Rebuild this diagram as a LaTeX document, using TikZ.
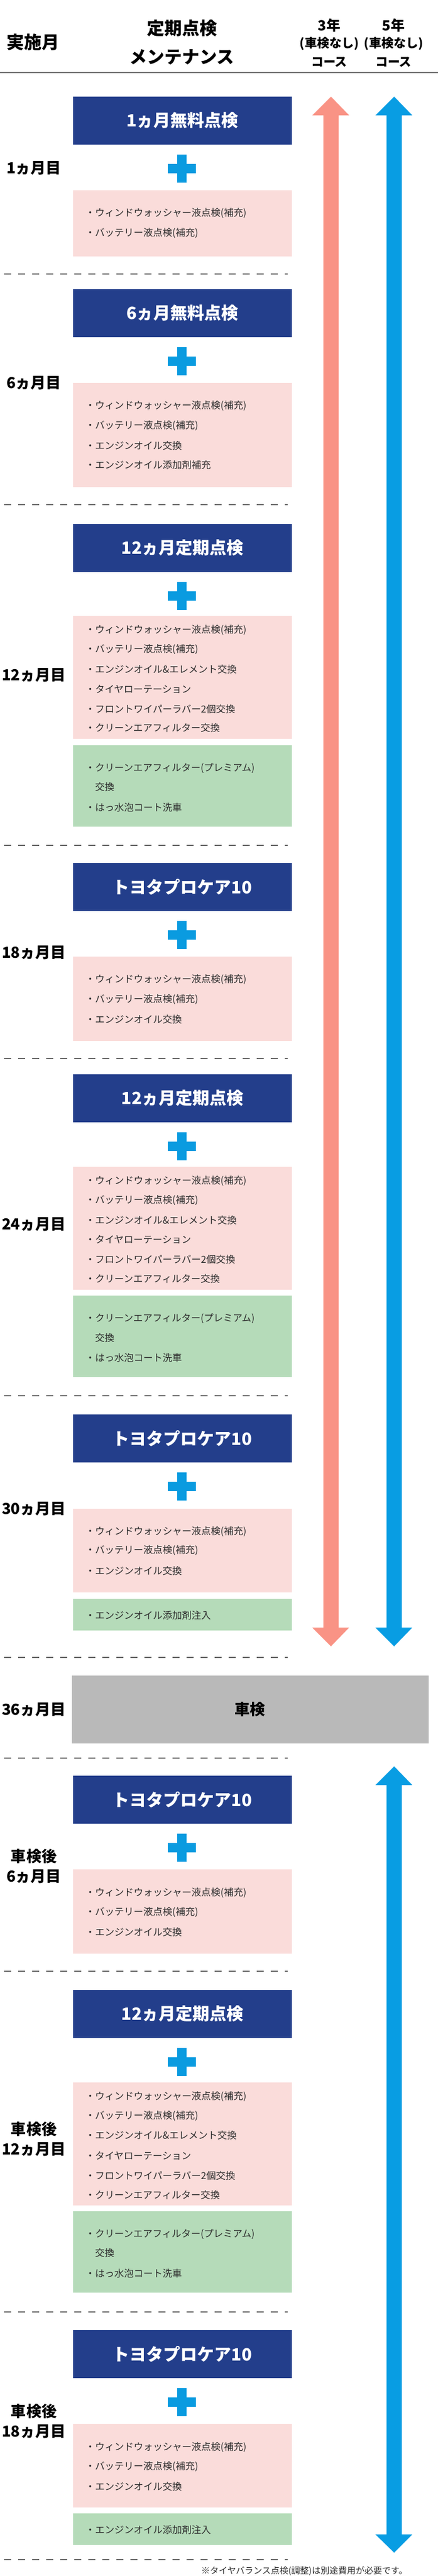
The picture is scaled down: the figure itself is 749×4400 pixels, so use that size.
\documentclass[tikz,border=0pt]{standalone}
\usepackage{fontspec}
\setmainfont{Noto Sans CJK JP}
\newfontfamily\jp{Noto Sans CJK JP}
\definecolor{navy}{RGB}{35,62,139}
\definecolor{plusblue}{RGB}{10,155,224}
\definecolor{pinkbg}{RGB}{250,220,218}
\definecolor{greenbg}{RGB}{181,219,185}
\definecolor{salmon}{RGB}{249,147,133}
\definecolor{arrblue}{RGB}{8,157,227}
\definecolor{graybox}{RGB}{185,185,185}
\definecolor{txt}{RGB}{45,45,45}
\tikzset{
  hdr/.style={font=\jp\bfseries\fontsize{30}{32}\selectfont, inner sep=0pt},
  hdrs/.style={font=\jp\bfseries\fontsize{21}{23}\selectfont, inner sep=0pt},
  mon/.style={font=\jp\bfseries\fontsize{26}{34}\selectfont, inner sep=0pt, align=center},
  ttl/.style={font=\jp\bfseries\fontsize{29}{31}\selectfont, text=white, inner sep=0pt},
  itm/.style={font=\jp\fontsize{16.5}{18}\selectfont, text=txt, inner sep=0pt, anchor=west},
  sep/.style={draw=black!60, line width=2pt, dash pattern=on 12pt off 12pt},
}
\newcommand\plusat[2]{\fill[plusblue] (303,#1) rectangle (319,#2);\fill[plusblue] (287,{(#1+#2)/2-8}) rectangle (335,{(#1+#2)/2+8});}
\newcommand\itm[3]{\node[itm] (#1) at (146,#2) {・#3};}
\begin{document}
\begin{tikzpicture}[x=1pt,y=-1pt]
\useasboundingbox (0,0) rectangle (749,4400);
% header
\node[hdr] (h1) at (57,72) {実施月};
\node[hdr] (h2) at (311,48) {定期点検};
\node[hdr] (h3) at (311,98) {メンテナンス};
\node[hdrs] (h4) at (563,43) {\fontsize{24}{26}\selectfont 3年};
\node[hdrs] (h5) at (563,75) {(車検なし)};
\node[hdrs] (h6) at (563,106) {コース};
\node[hdrs] (h7) at (673,43) {\fontsize{24}{26}\selectfont 5年};
\node[hdrs] (h8) at (673,75) {(車検なし)};
\node[hdrs] (h9) at (673,106) {コース};
\draw[black!55, line width=2.5pt] (0,124) -- (749,124);
% arrows
\fill[salmon] (566,165) -- (597,197) -- (579,197) -- (579,2780) -- (597,2780) -- (566,2812) -- (534,2780) -- (553,2780) -- (553,197) -- (534,197) -- cycle;
\fill[arrblue] (674,165) -- (705,197) -- (687,197) -- (687,2780) -- (705,2780) -- (674,2812) -- (642,2780) -- (661,2780) -- (661,197) -- (642,197) -- cycle;
\fill[arrblue] (674,3017) -- (705,3049) -- (687,3049) -- (687,4329) -- (705,4329) -- (674,4360) -- (642,4329) -- (661,4329) -- (661,3049) -- (642,3049) -- cycle;
% dashed separators
\foreach \yy in {468,862,1444,1808,2384,2831,3003,3367,3949,4372} \draw[sep] (7,\yy) -- (492,\yy);
% ---- section 1
\fill[navy] (125,165) rectangle (499,247); \node[ttl] (t1) at (312,206) {1ヵ月無料点検};
\plusat{264}{312}
\node[mon] (m1) at (58,287) {1ヵ月目};
\fill[pinkbg] (125,325) rectangle (499,438);
\itm{a1}{364}{ウィンドウォッシャー液点検(補充)}
\itm{a2}{398}{バッテリー液点検(補充)}
% ---- section 2
\fill[navy] (125,494) rectangle (499,576); \node[ttl] (t2) at (312,535) {6ヵ月無料点検};
\plusat{593}{641}
\node[mon] (m2) at (58,654) {6ヵ月目};
\fill[pinkbg] (125,654) rectangle (499,832);
\itm{b1}{693}{ウィンドウォッシャー液点検(補充)}
\itm{b2}{727}{バッテリー液点検(補充)}
\itm{b3}{761}{エンジンオイル交換}
\itm{b4}{794}{エンジンオイル添加剤補充}
% ---- section 3
\fill[navy] (125,895) rectangle (499,977); \node[ttl] (t3) at (312,936) {12ヵ月定期点検};
\plusat{994}{1042}
\node[mon] (m3) at (58,1153) {12ヵ月目};
\fill[pinkbg] (125,1052) rectangle (499,1262);
\itm{c1}{1076}{ウィンドウォッシャー液点検(補充)}
\itm{c2}{1109}{バッテリー液点検(補充)}
\itm{c3}{1143}{エンジンオイル\&エレメント交換}
\itm{c4}{1177}{タイヤローテーション}
\itm{c5}{1211}{フロントワイパーラバー2個交換}
\itm{c6}{1243}{クリーンエアフィルター交換}
\fill[greenbg] (125,1273) rectangle (499,1412);
\itm{c7}{1312}{クリーンエアフィルター(プレミアム)}
\node[itm] (c8) at (162.5,1344) {交換};
\itm{c9}{1379}{はっ水泡コート洗車}
% ---- section 4
\fill[navy] (125,1474) rectangle (499,1556); \node[ttl] (t4) at (312,1515) {トヨタプロケア10};
\plusat{1573}{1621}
\node[mon] (m4) at (58,1627) {18ヵ月目};
\fill[pinkbg] (125,1634) rectangle (499,1778);
\itm{d1}{1673}{ウィンドウォッシャー液点検(補充)}
\itm{d2}{1707}{バッテリー液点検(補充)}
\itm{d3}{1741}{エンジンオイル交換}
% ---- section 5
\fill[navy] (125,1835) rectangle (499,1917); \node[ttl] (t5) at (312,1876) {12ヵ月定期点検};
\plusat{1934}{1982}
\node[mon] (m5) at (58,2091) {24ヵ月目};
\fill[pinkbg] (125,1993) rectangle (499,2203);
\itm{e1}{2017}{ウィンドウォッシャー液点検(補充)}
\itm{e2}{2050}{バッテリー液点検(補充)}
\itm{e3}{2084}{エンジンオイル\&エレメント交換}
\itm{e4}{2117}{タイヤローテーション}
\itm{e5}{2151}{フロントワイパーラバー2個交換}
\itm{e6}{2184}{クリーンエアフィルター交換}
\fill[greenbg] (125,2213) rectangle (499,2352);
\itm{e7}{2252}{クリーンエアフィルター(プレミアム)}
\node[itm] (e8) at (162.5,2285) {交換};
\itm{e9}{2319}{はっ水泡コート洗車}
% ---- section 6
\fill[navy] (125,2416) rectangle (499,2498); \node[ttl] (t6) at (312,2457) {トヨタプロケア10};
\plusat{2515}{2563}
\node[mon] (m6) at (58,2577) {30ヵ月目};
\fill[pinkbg] (125,2577) rectangle (499,2720);
\itm{f1}{2616}{ウィンドウォッシャー液点検(補充)}
\itm{f2}{2648}{バッテリー液点検(補充)}
\itm{f3}{2683}{エンジンオイル交換}
\fill[greenbg] (125,2731) rectangle (499,2785);
\itm{f4}{2759}{エンジンオイル添加剤注入}
% ---- shaken
\fill[graybox] (123,2862) rectangle (733,2978);
\node[mon] (g1) at (427,2920) {車検};
\node[mon] (m7) at (58,2920) {36ヵ月目};
% ---- section 7
\fill[navy] (125,3033) rectangle (499,3115); \node[ttl] (t7) at (312,3074) {トヨタプロケア10};
\plusat{3132}{3180}
\node[mon] (m8) at (58,3188) {車検後\\6ヵ月目};
\fill[pinkbg] (125,3193) rectangle (499,3337);
\itm{h1i}{3233}{ウィンドウォッシャー液点検(補充)}
\itm{h2i}{3266}{バッテリー液点検(補充)}
\itm{h3i}{3300}{エンジンオイル交換}
% ---- section 8
\fill[navy] (125,3399) rectangle (499,3481); \node[ttl] (t8) at (312,3440) {12ヵ月定期点検};
\plusat{3498}{3546}
\node[mon] (m9) at (58,3653) {車検後\\12ヵ月目};
\fill[pinkbg] (125,3557) rectangle (499,3767);
\itm{k1}{3581}{ウィンドウォッシャー液点検(補充)}
\itm{k2}{3614}{バッテリー液点検(補充)}
\itm{k3}{3647}{エンジンオイル\&エレメント交換}
\itm{k4}{3682}{タイヤローテーション}
\itm{k5}{3716}{フロントワイパーラバー2個交換}
\itm{k6}{3749}{クリーンエアフィルター交換}
\fill[greenbg] (125,3777) rectangle (499,3916);
\itm{k7}{3816}{クリーンエアフィルター(プレミアム)}
\node[itm] (k8) at (162.5,3848) {交換};
\itm{k9}{3883}{はっ水泡コート洗車}
% ---- section 9
\fill[navy] (125,3980) rectangle (499,4062); \node[ttl] (t9) at (312,4021) {トヨタプロケア10};
\plusat{4079}{4127}
\node[mon] (m10) at (58,4135) {車検後\\18ヵ月目};
\fill[pinkbg] (125,4140) rectangle (499,4283);
\itm{n1}{4180}{ウィンドウォッシャー液点検(補充)}
\itm{n2}{4213}{バッテリー液点検(補充)}
\itm{n3}{4247}{エンジンオイル交換}
\fill[greenbg] (125,4293) rectangle (499,4347);
\itm{n4}{4321}{エンジンオイル添加剤注入}
% footnote
\node[font=\jp\fontsize{15}{16}\selectfont, text=txt, inner sep=0pt, anchor=east] (fn) at (697,4392) {※タイヤバランス点検(調整)は別途費用が必要です。};
\end{tikzpicture}
\end{document}
